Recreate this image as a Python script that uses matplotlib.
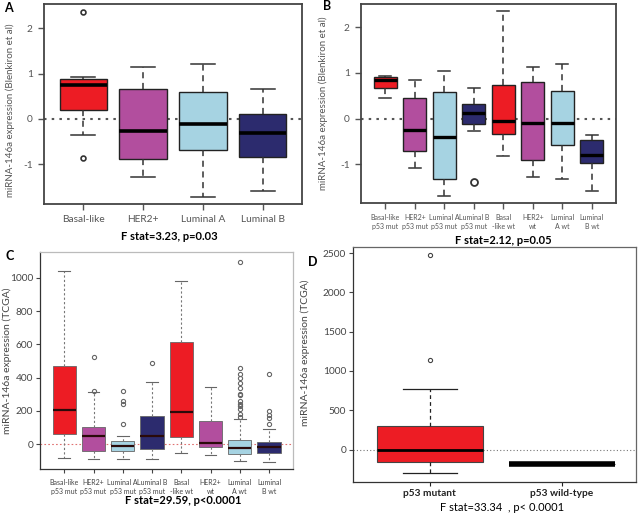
import matplotlib
matplotlib.use("Agg")
import matplotlib.pyplot as plt

plt.rcParams['font.family'] = ['Lato', 'DejaVu Sans']
plt.rcParams['axes.unicode_minus'] = False

# colours per subtype
RED = '#ED1C24'
PURPLE = '#B24E9E'
LBLUE = '#A6D3E2'
NAVY = '#2C2B6E'

# ---- panel A : Blenkiron, subtypes ----
a_labels = ['Basal-like', 'HER2+', 'Luminal A', 'Luminal B']
a_q1 = [0.20, -0.89, -0.69, -0.83]
a_med = [0.74, -0.26, -0.12, -0.30]
a_q3 = [0.89, 0.65, 0.59, 0.12]
a_lo = [-0.35, -1.28, -1.71, -1.59]
a_hi = [0.93, 1.14, 1.20, 0.67]
a_fliers = [[2.35, -0.85], [], [], []]
a_colors = [RED, PURPLE, LBLUE, NAVY]

# ---- panel B : Blenkiron, subtype x p53 ----
b_labels = ['Basal-like\np53 mut', 'HER2+\np53 mut', 'Luminal A\np53 mut', 'Luminal B\np53 mut',
            'Basal\n-like wt', 'HER2+\nwt', 'Luminal\nA wt', 'Luminal\nB wt']
b_q1 = [0.68, -0.70, -1.33, -0.12, -0.34, -0.91, -0.58, -0.97]
b_med = [0.84, -0.24, -0.41, 0.13, -0.05, -0.09, -0.10, -0.80]
b_q3 = [0.90, 0.45, 0.58, 0.31, 0.74, 0.81, 0.61, -0.47]
b_lo = [0.45, -1.08, -1.70, -0.28, -0.83, -1.28, -1.33, -1.58]
b_hi = [0.93, 0.84, 1.04, 0.68, 2.35, 1.14, 1.20, -0.36]
b_fliers = [[], [], [], [-1.39], [], [], [], []]
b_colors = [RED, PURPLE, LBLUE, NAVY, RED, PURPLE, LBLUE, NAVY]

# ---- panel C : TCGA, subtype x p53 ----
c_labels = ['Basal-like\np53 mut', 'HER2+\np53 mut', 'Luminal A\np53 mut', 'Luminal B\np53 mut',
            'Basal\n-like wt', 'HER2+\nwt', 'Luminal\nA wt', 'Luminal\nB wt']
c_q1 = [60, -44, -44, -28, 44, -16, -60, -56]
c_med = [202, 48, -12, 48, 194, 8, -24, -20]
c_q3 = [472, 100, 20, 168, 616, 138, 24, 14]
c_lo = [-84, -92, -88, -90, -52, -64, -104, -108]
c_hi = [1040, 312, 48, 376, 982, 344, 150, 88]
c_fliers = [[], [526, 318], [322, 260, 240, 120], [486], [], [],
            [1095, 456, 424, 396, 370, 340, 300, 296, 256, 240, 226, 208, 180, 160],
            [422, 200, 176, 156, 120]]
c_colors = [RED, PURPLE, LBLUE, NAVY, RED, PURPLE, LBLUE, NAVY]
c_ticks = [0, 200, 400, 600, 800, 1000]

# ---- panel D : TCGA, p53 status ----
d_labels = ['p53 mutant', 'p53 wild-type']
d_q1 = [-157, -178]
d_med = [0, -178]
d_q3 = [301, -178]
d_lo = [-292, -178]
d_hi = [775, -178]
d_fliers = [[2470, 1140], []]
d_ticks = [0, 500, 1000, 1500, 2000, 2500]


def px_axes(fig, left, top, right, bottom):
    W, H = 640.0, 515.0
    return fig.add_axes([left / W, 1 - bottom / H, (right - left) / W, (bottom - top) / H])


def stats(labels, q1, med, q3, lo, hi, fliers):
    out = []
    for i in range(len(labels)):
        out.append(dict(label=labels[i], q1=q1[i], med=med[i], q3=q3[i],
                        whislo=lo[i], whishi=hi[i], fliers=fliers[i]))
    return out


fig = plt.figure(figsize=(6.4, 5.15), dpi=100)

# ================= A =================
ax = px_axes(fig, 44, 4, 302, 204)
pos = list(range(1, 5))
bp = ax.bxp(stats(a_labels, a_q1, a_med, a_q3, a_lo, a_hi, a_fliers), positions=pos,
            widths=0.8, capwidths=0.4, patch_artist=True, manage_ticks=False,
            boxprops=dict(edgecolor='#222222', linewidth=1.0),
            medianprops=dict(color='black', linewidth=2.6, solid_capstyle='butt'),
            whiskerprops=dict(color='#333333', linewidth=1.1, linestyle=(0, (4, 3))),
            capprops=dict(color='#333333', linewidth=1.1),
            flierprops=dict(marker='o', markersize=3.5, markerfacecolor='none',
                            markeredgecolor='#333333', markeredgewidth=1.2))
for patch, c in zip(bp['boxes'], a_colors):
    patch.set_facecolor(c)
ax.axhline(0, color='#555555', linestyle=(0, (1.2, 2.5)), linewidth=1.5, zorder=0)
ax.set_xlim(0.34, 4.66)
ax.set_ylim(-1.87, 2.53)
ax.set_yticks([-1, 0, 1, 2])
ax.set_yticklabels(['-1', '0', '1', '2'])
ax.set_xticks(pos)
ax.set_xticklabels(a_labels)
ax.tick_params(axis='both', labelsize=7.3, colors='#555555', length=4, width=1, pad=4)
for s in ax.spines.values():
    s.set_color('#444444')
    s.set_linewidth(1.3)
ax.set_ylabel('miRNA-146a expression (Blenkiron et al)', fontsize=7, color='#555555')
ax.yaxis.set_label_coords(-0.112, 0.47)
fig.text(169 / 640, 1 - 237 / 515, 'F stat=3.23, p=0.03', ha='center', va='center',
         fontsize=8, fontweight='bold')
fig.text(8 / 640, 1 - 8 / 515, 'A', ha='center', va='center', fontsize=9, fontweight='bold')

# ================= B =================
ax = px_axes(fig, 361, 4, 616, 203)
pos = list(range(1, 9))
bp = ax.bxp(stats(b_labels, b_q1, b_med, b_q3, b_lo, b_hi, b_fliers), positions=pos,
            widths=0.78, capwidths=0.4, patch_artist=True, manage_ticks=False,
            boxprops=dict(edgecolor='#222222', linewidth=1.0),
            medianprops=dict(color='black', linewidth=2.4, solid_capstyle='butt'),
            whiskerprops=dict(color='#333333', linewidth=1.1, linestyle=(0, (4, 3))),
            capprops=dict(color='#333333', linewidth=1.1),
            flierprops=dict(marker='o', markersize=5, markerfacecolor='none',
                            markeredgecolor='#333333', markeredgewidth=1.3))
for patch, c in zip(bp['boxes'], b_colors):
    patch.set_facecolor(c)
ax.axhline(0, color='#555555', linestyle=(0, (1.2, 2.5)), linewidth=1.5, zorder=0)
ax.set_xlim(0.18, 8.82)
ax.set_ylim(-1.85, 2.51)
ax.set_yticks([-1, 0, 1, 2])
ax.set_yticklabels(['-1', '0', '1', '2'])
ax.set_xticks(pos)
ax.set_xticklabels(b_labels, linespacing=1.35)
ax.tick_params(axis='y', labelsize=7.3, colors='#555555', length=4, width=1, pad=4)
ax.tick_params(axis='x', labelsize=5.0, colors='#555555', length=4, width=1, pad=4)
for s in ax.spines.values():
    s.set_color('#444444')
    s.set_linewidth(1.3)
ax.set_ylabel('miRNA-146a expression (Blenkiron et al)', fontsize=7, color='#555555')
ax.yaxis.set_label_coords(-0.13, 0.5)
fig.text(503 / 640, 1 - 240.5 / 515, 'F stat=2.12, p=0.05', ha='center', va='center',
         fontsize=8, fontweight='bold')
fig.text(327 / 640, 1 - 6 / 515, 'B', ha='center', va='center', fontsize=9, fontweight='bold')

# ================= C =================
ax = px_axes(fig, 40, 252, 293, 469)
pos = list(range(1, 9))
bp = ax.bxp(stats(c_labels, c_q1, c_med, c_q3, c_lo, c_hi, c_fliers), positions=pos,
            widths=0.8, capwidths=0.4, patch_artist=True, manage_ticks=False,
            boxprops=dict(edgecolor='#666666', linewidth=0.6),
            medianprops=dict(color='#2a0a0a', linewidth=1.6, solid_capstyle='butt'),
            whiskerprops=dict(color='#777777', linewidth=0.8, linestyle=(0, (2, 2))),
            capprops=dict(color='#666666', linewidth=0.8),
            flierprops=dict(marker='o', markersize=3, markerfacecolor='none',
                            markeredgecolor='#666666', markeredgewidth=0.8))
for patch, c in zip(bp['boxes'], c_colors):
    patch.set_facecolor(c)
ax.axhline(0, color='#E07070', linestyle=(0, (1.5, 2)), linewidth=0.8, zorder=0)
ax.set_xlim(0.17, 8.82)
ax.set_ylim(-150, 1155)
ax.set_yticks(c_ticks)
ax.set_yticklabels([str(t) for t in c_ticks])
ax.set_xticks(pos)
ax.set_xticklabels(c_labels, linespacing=1.35)
ax.tick_params(axis='y', labelsize=7.3, colors='#444444', length=3, width=0.8, pad=2)
ax.tick_params(axis='x', labelsize=5.0, colors='#444444', length=3, width=0.8, pad=4)
ax.spines['left'].set_color('#333333')
ax.spines['bottom'].set_color('#333333')
ax.spines['top'].set_color('#bbbbbb')
ax.spines['right'].set_color('#bbbbbb')
for s in ax.spines.values():
    s.set_linewidth(0.9)
ax.set_ylabel('miRNA-146a expression (TCGA)', fontsize=7.5, color='#444444')
ax.yaxis.set_label_coords(-0.11, 0.5)
fig.text(183 / 640, 1 - 500.5 / 515, 'F stat=29.59, p<0.0001', ha='center', va='center',
         fontsize=8, fontweight='bold')
fig.text(10 / 640, 1 - 256 / 515, 'C', ha='center', va='center', fontsize=9, fontweight='bold')

# ================= D =================
ax = px_axes(fig, 353, 247, 636, 482)
pos = [1, 2]
bp = ax.bxp(stats(d_labels, d_q1, d_med, d_q3, d_lo, d_hi, d_fliers), positions=pos,
            widths=0.8, capwidths=0.41, patch_artist=True, manage_ticks=False,
            boxprops=dict(edgecolor='#444444', linewidth=0.8),
            medianprops=dict(color='black', linewidth=2.0, solid_capstyle='butt'),
            whiskerprops=dict(color='#222222', linewidth=0.9, linestyle=(0, (3, 2.5))),
            capprops=dict(color='#222222', linewidth=0.9),
            flierprops=dict(marker='o', markersize=3, markerfacecolor='none',
                            markeredgecolor='#444444', markeredgewidth=0.8))
bp['boxes'][0].set_facecolor(RED)
bp['boxes'][1].set_facecolor('black')
bp['medians'][1].set_linewidth(4)
ax.axhline(0, color='#777777', linestyle=(0, (1, 2)), linewidth=0.8, zorder=0)
ax.set_xlim(0.42, 2.56)
ax.set_ylim(-412, 2577)
ax.set_yticks(d_ticks)
ax.set_yticklabels([str(t) for t in d_ticks])
ax.set_xticks(pos)
ax.set_xticklabels(d_labels, fontweight='bold')
ax.tick_params(axis='y', labelsize=7.3, colors='#444444', length=3, width=0.8, pad=2)
ax.tick_params(axis='x', labelsize=7.3, colors='#222222', length=3, width=0.8, pad=2)
ax.spines['left'].set_color('#333333')
ax.spines['bottom'].set_color('#333333')
ax.spines['top'].set_color('#666666')
ax.spines['right'].set_color('#666666')
for s in ax.spines.values():
    s.set_linewidth(0.9)
ax.set_ylabel('miRNA-146a expression (TCGA)', fontsize=7.5, color='#444444')
ax.yaxis.set_label_coords(-0.152, 0.55)
fig.text(502 / 640, 1 - 507.5 / 515, 'F stat=33.34  , p< 0.0001', ha='center', va='center',
         fontsize=8)
fig.text(313 / 640, 1 - 262 / 515, 'D', ha='center', va='center', fontsize=9, fontweight='bold')

fig.savefig('out.png', dpi=100)
